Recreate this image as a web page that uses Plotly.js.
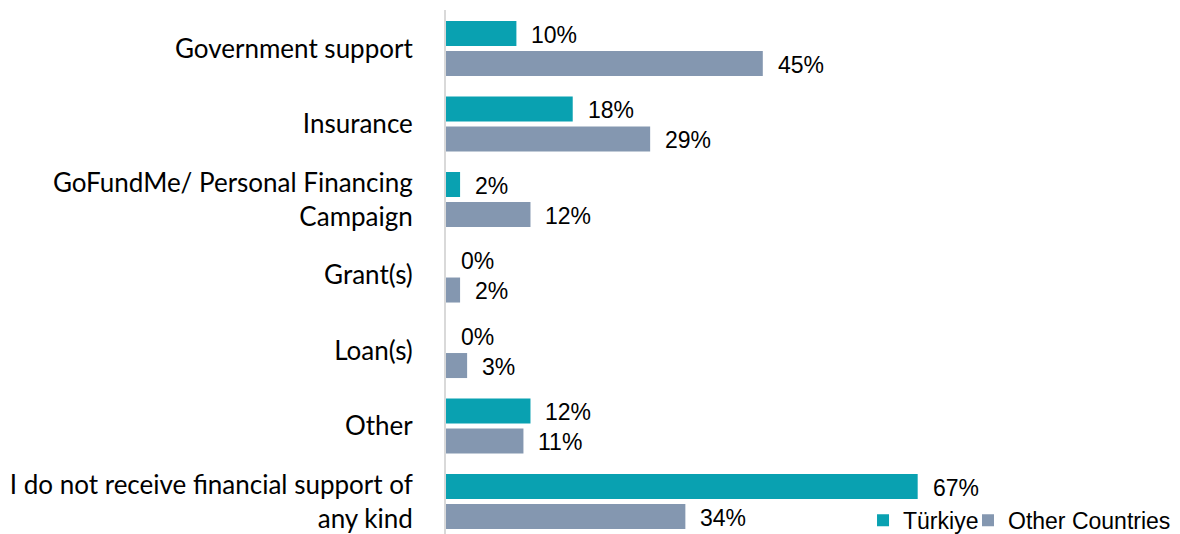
<!DOCTYPE html>
<html>
<head>
<meta charset="utf-8">
<script src="https://cdn.plot.ly/plotly-3.0.1.min.js"></script>
<style>html,body{margin:0;padding:0;background:#fff;}#chart{width:1180px;height:534px;}</style>
</head>
<body>
<div id="chart"></div>
<script>
const categories = [
  "Government support",
  "Insurance",
  "GoFundMe/ Personal Financing<br>Campaign",
  "Grant(s)",
  "Loan(s)",
  "Other",
  "I do not receive financial support of<br>any kind"
];
const turkiye = [10, 18, 2, 0, 0, 12, 67];
const otherCountries = [45, 29, 12, 2, 3, 11, 34];
const seriesNames = ["Türkiye", "Other Countries"];
const seriesColors = ["#09A1B1", "#8497B0"];

const labelFont = {family: "Liberation Sans, Arial, sans-serif", size: 23, color: "#000"};

const traces = [turkiye, otherCountries].map((vals, k) => ({
  type: "bar",
  orientation: "h",
  name: seriesNames[k],
  legend: k === 0 ? "legend" : "legend2",
  y: categories,
  x: vals,
  marker: {color: seriesColors[k]},
  hoverinfo: "skip"
}));

const slot = 30 / 75.5;
const annotations = [];
[turkiye, otherCountries].forEach((vals, k) => {
  vals.forEach((v, i) => {
    annotations.push({
      x: v, y: i + (k === 0 ? -slot / 2 : slot / 2),
      xref: "x", yref: "y",
      text: v + "%",
      showarrow: false,
      xanchor: "left", yanchor: "middle",
      xshift: 13, yshift: -1,
      font: labelFont
    });
  });
});

const legendBase = {
  orientation: "h",
  xanchor: "left",
  y: -0.015, yanchor: "bottom",
  font: labelFont,
  bgcolor: "rgba(0,0,0,0)",
  borderwidth: 0
};

const layout = {
  width: 1180, height: 534,
  margin: {l: 446, r: 10, t: 10, b: 0, autoexpand: false},
  paper_bgcolor: "#fff", plot_bgcolor: "#fff",
  barmode: "group",
  bargap: 0.205,
  bargroupgap: 1 / 6,
  showlegend: true,
  legend: Object.assign({}, legendBase, {x: 0.576}),
  legend2: Object.assign({}, legendBase, {x: 0.721}),
  xaxis: {
    range: [0, 724 / 7.04],
    showgrid: false, zeroline: false, showticklabels: false, showline: false, ticks: "",
    automargin: false
  },
  yaxis: {
    type: "category",
    range: [6.43, -0.51],
    showgrid: false, zeroline: false,
    showline: true, linecolor: "#D9D9D9", linewidth: 2,
    ticks: "outside", ticklen: 26, tickcolor: "rgba(0,0,0,0)",
    tickfont: {family: "Lato, sans-serif", size: 26, color: "#000"},
    automargin: false
  },
  annotations: annotations
};

Plotly.newPlot("chart", traces, layout, {staticPlot: true});
</script>
</body>
</html>
